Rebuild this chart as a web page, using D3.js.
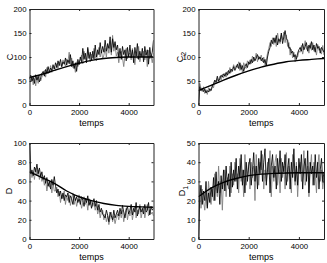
<!DOCTYPE html>
<html>
<head>
<meta charset="utf-8">
<script src="https://cdn.jsdelivr.net/npm/d3@7"></script>
<style>
  body { margin: 0; background: #fff; }
  svg { display: block; font-family: "Liberation Sans", Arial, sans-serif; }
</style>
</head>
<body>
<svg id="chart"></svg>
<script>
// time grid: one sample every 50 units, 0..5000
const step = 50;
const xTicks = [0, 2000, 4000];
const smoothT = [0, 500, 1000, 1500, 2000, 2500, 3000, 3500, 4000, 4500, 5000];

// C
const cBlack = [55, 62, 50, 58, 45, 63, 52, 60, 48, 57, 66,
  70, 60, 74, 66, 80, 68, 77, 72, 84, 75,
  88, 78, 92, 82, 95, 80, 90, 85, 98, 83,
  94, 86, 105, 80, 92, 76, 88, 70, 95, 84,
  100, 90, 118, 95, 108, 88, 120, 97, 110, 92,
  112, 96, 125, 100, 115, 105, 130, 108, 122, 110,
  135, 112, 128, 118, 142, 110, 138, 120, 132, 115,
  125, 100, 118, 95, 122, 105, 115, 92, 120, 100,
  125, 98, 115, 88, 120, 102, 128, 95, 112, 100,
  118, 90, 122, 104, 115, 85, 120, 100, 110, 135];
const cGray = [57, 48, 60, 42, 55, 40, 58, 45, 62, 50, 58,
  64, 72, 58, 78, 65, 70, 82, 68, 76, 80,
  72, 86, 76, 90, 84, 79, 94, 88, 81, 96,
  90, 110, 84, 98, 78, 86, 68, 90, 80, 88,
  95, 104, 86, 112, 98, 92, 116, 102, 90, 106,
  98, 118, 102, 92, 110, 120, 100, 114, 96, 104,
  118, 100, 124, 108, 130, 104, 145, 112, 126, 102,
  110, 88, 108, 112, 98, 80, 104, 118, 96, 106,
  108, 94, 118, 100, 84, 110, 96, 122, 90, 106,
  100, 112, 94, 108, 80, 114, 96, 104, 88, 108];
const cSmooth = [57, 64, 72, 80, 87, 93, 97, 99, 100, 100, 100];

// C2
const c2Black = [0, 38, 30, 35, 28, 33, 25, 30, 27, 34, 30,
  38, 45, 52, 48, 60, 50, 55, 62, 58, 65,
  60, 68, 62, 72, 66, 75, 70, 80, 72, 78,
  85, 76, 88, 74, 82, 70, 80, 86, 78, 90,
  85, 95, 88, 100, 92, 98, 105, 95, 100, 92,
  98, 88, 95, 82, 100, 112, 120, 135, 128, 140,
  130, 145, 125, 138, 132, 150, 128, 142, 155, 138,
  135, 118, 120, 108, 112, 100, 105, 95, 108, 115,
  120, 112, 128, 115, 122, 130, 112, 125, 118, 132,
  115, 125, 110, 128, 118, 122, 108, 120, 115, 110];
const c2Gray = [0, 45, 35, 28, 38, 24, 32, 22, 36, 28, 32,
  42, 36, 50, 44, 55, 46, 60, 52, 64, 56,
  66, 58, 70, 64, 78, 68, 74, 84, 76, 82,
  78, 90, 72, 84, 68, 88, 80, 76, 92, 84,
  94, 86, 102, 90, 96, 108, 90, 102, 96, 104,
  90, 100, 84, 92, 108, 118, 130, 122, 140, 126,
  140, 122, 150, 134, 128, 146, 136, 152, 130, 146,
  122, 130, 104, 116, 98, 110, 90, 102, 100, 112,
  110, 124, 106, 118, 134, 116, 122, 108, 128, 114,
  130, 112, 120, 104, 126, 114, 118, 106, 124, 104];
const c2Smooth = [30, 41, 52, 62, 71, 79, 85, 90, 93, 95, 97];

// D
const dBlack = [100, 68, 72, 66, 75, 70, 78, 68, 74, 65, 70,
  62, 66, 58, 64, 55, 60, 52, 62, 56, 65,
  55, 48, 52, 45, 50, 42, 48, 40, 46, 44,
  48, 38, 45, 42, 36, 46, 40, 44, 38, 42,
  36, 44, 40, 34, 42, 38, 45, 35, 40, 32,
  38, 42, 34, 40, 30, 36, 28, 32, 26, 24,
  22, 30, 25, 18, 28, 24, 20, 30, 22, 26,
  30, 24, 32, 26, 35, 28, 22, 30, 34, 26,
  30, 36, 25, 32, 28, 38, 24, 30, 34, 28,
  32, 26, 36, 28, 30, 38, 25, 34, 30, 32];
const dGray = [100, 72, 64, 70, 62, 74, 66, 72, 62, 68, 60,
  64, 56, 62, 50, 58, 54, 60, 48, 58, 50,
  50, 54, 44, 50, 38, 46, 42, 50, 36, 45,
  40, 46, 35, 42, 48, 36, 42, 34, 40, 46,
  40, 32, 38, 44, 36, 40, 30, 42, 36, 40,
  34, 38, 30, 36, 26, 32, 22, 28, 30, 20,
  26, 18, 24, 15, 22, 28, 18, 24, 16, 22,
  26, 20, 28, 22, 30, 18, 26, 32, 20, 28,
  24, 32, 20, 28, 34, 22, 30, 26, 36, 22,
  28, 34, 22, 30, 36, 24, 30, 26, 28, 24];
const dSmooth = [70, 64, 58, 50, 44, 40, 37, 35, 34, 33.5, 33];

// D1
const d1Black = [0, 22, 28, 18, 25, 20, 30, 16, 24, 19, 27,
  22, 32, 20, 35, 24, 30, 18, 33, 26, 36,
  25, 38, 28, 34, 22, 40, 27, 36, 30, 42,
  26, 38, 32, 44, 28, 36, 24, 40, 30, 38,
  42, 28, 36, 45, 30, 38, 26, 42, 34, 46,
  30, 40, 47, 28, 36, 42, 24, 38, 44, 32,
  38, 26, 42, 34, 46, 30, 40, 35, 44, 28,
  36, 42, 26, 40, 32, 47, 30, 38, 28, 42,
  34, 44, 26, 38, 42, 30, 46, 24, 40, 34,
  38, 28, 44, 32, 40, 26, 36, 42, 30, 35];
const d1Gray = [0, 28, 16, 26, 20, 15, 24, 17, 30, 22, 18,
  26, 20, 34, 28, 22, 38, 24, 30, 15, 32,
  36, 22, 32, 26, 38, 24, 34, 28, 40, 30,
  34, 24, 42, 30, 36, 22, 44, 28, 34, 40,
  26, 40, 32, 38, 20, 44, 34, 28, 40, 36,
  44, 26, 36, 30, 40, 34, 46, 22, 38, 30,
  40, 44, 28, 36, 24, 42, 32, 38, 26, 45,
  30, 38, 34, 24, 44, 36, 28, 40, 22, 36,
  40, 30, 36, 46, 28, 32, 38, 22, 36, 44,
  28, 40, 34, 24, 38, 44, 30, 36, 26, 32];
const d1Smooth = [22, 26.5, 29.5, 31.5, 33, 33.8, 34.2, 34.4, 34.5, 34.5, 34.5];

const width = 327, height = 263;
const svg = d3.select("#chart").attr("width", width).attr("height", height);

function drawPanel(p) {
    const x = d3.scaleLinear().domain([0, 5000]).range([p.left, p.right]);
    const y = d3.scaleLinear().domain(p.yDomain).range([p.bottom, p.top]);
    const g = svg.append("g");

    const clipId = "clip" + p.id;
    g.append("clipPath").attr("id", clipId)
        .append("rect")
        .attr("x", p.left).attr("y", p.top)
        .attr("width", p.right - p.left).attr("height", p.bottom - p.top);

    const line = d3.line().x((d, i) => x(i * step)).y(d => y(d));
    const plot = g.append("g").attr("clip-path", `url(#${clipId})`);

    // gray run, then black run, then the smooth model curve
    plot.append("path").datum(p.gray)
        .attr("d", line).attr("fill", "none")
        .attr("stroke", "#808080").attr("stroke-width", 0.9);
    plot.append("path").datum(p.black)
        .attr("d", line).attr("fill", "none")
        .attr("stroke", "#000").attr("stroke-width", 0.85);
    plot.append("path").datum(p.smooth)
        .attr("d", d3.line().x((d, i) => x(smoothT[i])).y(d => y(d)).curve(d3.curveMonotoneX))
        .attr("fill", "none").attr("stroke", "#000").attr("stroke-width", 1.4);

    // axes, MATLAB style: inward ticks on every side
    const fmt = d3.format("d");
    g.append("g")
        .attr("transform", `translate(0,${p.bottom})`)
        .call(d3.axisBottom(x).tickValues(xTicks).tickFormat(fmt).tickSizeInner(-2).tickSizeOuter(0).tickPadding(4));
    g.append("g")
        .attr("transform", `translate(0,${p.top})`)
        .call(d3.axisTop(x).tickValues(xTicks).tickSizeInner(-2).tickSizeOuter(0).tickFormat(""));
    g.append("g")
        .attr("transform", `translate(${p.left},0)`)
        .call(d3.axisLeft(y).tickValues(p.yTicks).tickFormat(fmt).tickSizeInner(-2).tickSizeOuter(0).tickPadding(3));
    g.append("g")
        .attr("transform", `translate(${p.right},0)`)
        .call(d3.axisRight(y).tickValues(p.yTicks).tickSizeInner(-2).tickSizeOuter(0).tickFormat(""));

    g.selectAll(".domain").attr("stroke", "#222");
    g.selectAll(".tick line").attr("stroke", "#222");
    g.selectAll(".tick text").attr("font-size", 7.8).attr("fill", "#000")
        .attr("font-family", "Liberation Sans, Arial, sans-serif");

    // x label
    g.append("text")
        .attr("x", (p.left + p.right) / 2)
        .attr("y", p.bottom + 21)
        .attr("text-anchor", "middle")
        .attr("font-size", 9)
        .text("temps");

    // y label, rotated, optional subscript
    const yl = g.append("text")
        .attr("transform", `translate(${p.left - p.labelGap},${(p.top + p.bottom) / 2}) rotate(-90)`)
        .attr("text-anchor", "middle")
        .attr("font-size", 9);
    yl.append("tspan").text(p.label);
    if (p.sub) {
        yl.append("tspan").attr("dy", 2.5).attr("font-size", 7).text(p.sub);
    }
}

const rowTop = [9, 143], rowBottom = [105, 239];
const colLeft = [29.5, 198.5], colRight = [153.5, 324];

drawPanel({id: 1, left: colLeft[0], right: colRight[0], top: rowTop[0], bottom: rowBottom[0],
    yDomain: [0, 200], yTicks: [0, 50, 100, 150, 200], label: "C", labelGap: 17,
    black: cBlack, gray: cGray, smooth: cSmooth});
drawPanel({id: 2, left: colLeft[1], right: colRight[1], top: rowTop[0], bottom: rowBottom[0],
    yDomain: [0, 200], yTicks: [0, 50, 100, 150, 200], label: "C", sub: "2", labelGap: 15.5,
    black: c2Black, gray: c2Gray, smooth: c2Smooth});
drawPanel({id: 3, left: colLeft[0], right: colRight[0], top: rowTop[1], bottom: rowBottom[1],
    yDomain: [0, 100], yTicks: [0, 20, 40, 60, 80, 100], label: "D", labelGap: 18,
    black: dBlack, gray: dGray, smooth: dSmooth});
drawPanel({id: 4, left: colLeft[1], right: colRight[1], top: rowTop[1], bottom: rowBottom[1],
    yDomain: [0, 50], yTicks: [0, 10, 20, 30, 40, 50], label: "D", sub: "1", labelGap: 13.5,
    black: d1Black, gray: d1Gray, smooth: d1Smooth});
</script>
</body>
</html>
